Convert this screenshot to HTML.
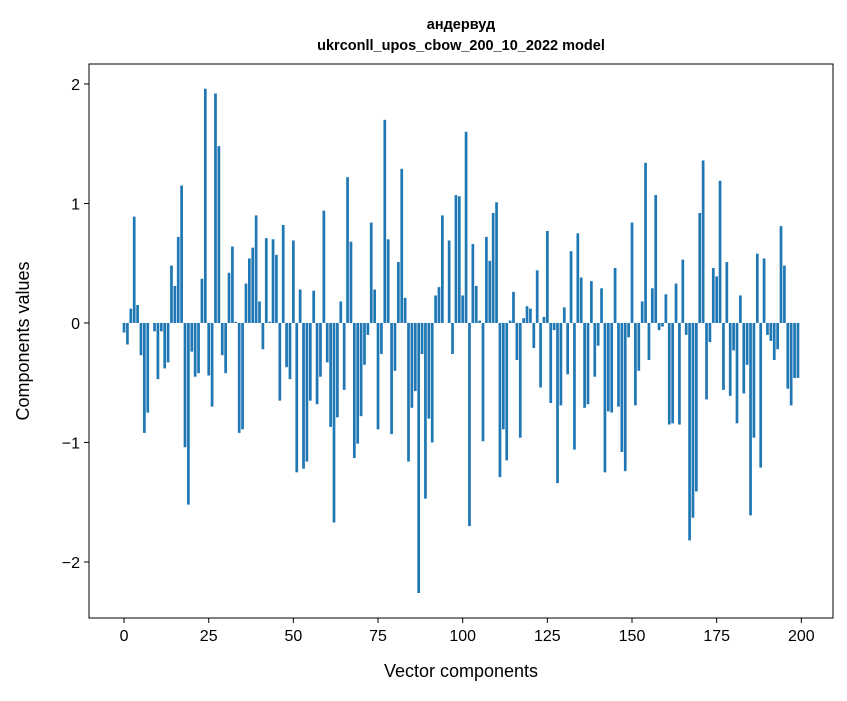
<!DOCTYPE html>
<html><head><meta charset="utf-8"><style>
body{margin:0;background:#fff;}
svg{font-family:"Liberation Sans","DejaVu Sans",sans-serif;}
</style></head><body>
<svg id="chart" width="847" height="696" xmlns="http://www.w3.org/2000/svg">
<rect width="847" height="696" fill="#fff"/>
<text x="461" y="29" text-anchor="middle" font-size="14.5" font-weight="bold">андервуд</text>
<text x="461" y="50" text-anchor="middle" font-size="14.5" font-weight="bold">ukrconll_upos_cbow_200_10_2022 model</text>
<g id="bars"></g>
<g id="axes"></g>
<rect x="89" y="64" width="744" height="554" fill="none" stroke="#000" stroke-width="1"/>
<text x="461" y="677" text-anchor="middle" font-size="18">Vector components</text>
<text transform="translate(29,341) rotate(-90)" text-anchor="middle" font-size="18">Components values</text>
</svg>
<script>
const values = [-0.08,-0.18,0.12,0.89,0.15,-0.27,-0.92,-0.75,0.0,-0.07,
-0.47,-0.07,-0.38,-0.33,0.48,0.31,0.72,1.15,-1.04,-1.52,
-0.24,-0.45,-0.42,0.37,1.96,-0.44,-0.70,1.92,1.48,-0.27,
-0.42,0.42,0.64,0.01,-0.92,-0.89,0.33,0.54,0.63,0.90,
0.18,-0.22,0.71,0.01,0.70,0.57,-0.65,0.82,-0.37,-0.47,
0.69,-1.25,0.28,-1.22,-1.16,-0.65,0.27,-0.68,-0.45,0.94,
-0.33,-0.87,-1.67,-0.79,0.18,-0.56,1.22,0.68,-1.13,-1.01,
-0.78,-0.35,-0.10,0.84,0.28,-0.89,-0.26,1.70,0.70,-0.93,
-0.40,0.51,1.29,0.21,-1.16,-0.71,-0.57,-2.26,-0.26,-1.47,
-0.80,-1.00,0.23,0.30,0.90,0.0,0.69,-0.26,1.07,1.06,
0.23,1.60,-1.70,0.66,0.31,0.02,-0.99,0.72,0.52,0.92,
1.01,-1.29,-0.89,-1.15,0.02,0.26,-0.31,-0.96,0.04,0.14,
0.12,-0.21,0.44,-0.54,0.05,0.77,-0.67,-0.06,-1.34,-0.69,
0.13,-0.43,0.60,-1.06,0.75,0.38,-0.71,-0.68,0.35,-0.45,
-0.19,0.29,-1.25,-0.74,-0.75,0.46,-0.70,-1.08,-1.24,-0.12,
0.84,-0.69,-0.40,0.18,1.34,-0.31,0.29,1.07,-0.06,-0.03,
0.24,-0.85,-0.84,0.33,-0.85,0.53,-0.10,-1.82,-1.63,-1.41,
0.92,1.36,-0.64,-0.16,0.46,0.39,1.19,-0.56,0.51,-0.61,
-0.23,-0.84,0.23,-0.59,-0.35,-1.61,-0.96,0.58,-1.21,0.54,
-0.10,-0.15,-0.31,-0.22,0.81,0.48,-0.55,-0.69,-0.46,-0.46];
const xTicks = [0,25,50,75,100,125,150,175,200];
const yTicks = [-2,-1,0,1,2];
const yTickLabels = ["\u22122","\u22121","0","1","2"];

const X0=89,X1=833,Y0=64,Y1=618;
const xMin=-10.35,xMax=209.35,yMin=-2.469,yMax=2.167;
function xs(v){return X0+(v-xMin)/(xMax-xMin)*(X1-X0);}
function ys(v){return Y1-(v-yMin)/(yMax-yMin)*(Y1-Y0);}
const NS="http://www.w3.org/2000/svg";
const bars=document.getElementById('bars');
values.forEach((v,i)=>{
  const r=document.createElementNS(NS,'rect');
  
  
  const x=xs(i-0.4),w=xs(i+0.4)-x;
  const y=Math.min(ys(v),ys(0)),h=Math.abs(ys(v)-ys(0));
  r.setAttribute('x',x);r.setAttribute('y',y);
  r.setAttribute('width',w);r.setAttribute('height',h);
  r.setAttribute('fill','#1f77b4');
  bars.appendChild(r);
});
const axes=document.getElementById('axes');
xTicks.forEach(t=>{
  const l=document.createElementNS(NS,'line');
  
  
  l.setAttribute('x1',xs(t));l.setAttribute('x2',xs(t));
  l.setAttribute('y1',Y1);l.setAttribute('y2',Y1+5);
  l.setAttribute('stroke','#000');
  axes.appendChild(l);
  const tx=document.createElementNS(NS,'text');
  
  
  tx.setAttribute('x',xs(t));tx.setAttribute('y',Y1+23);
  tx.setAttribute('text-anchor','middle');tx.setAttribute('font-size','16');
  tx.textContent=t;
  axes.appendChild(tx);
});
yTicks.forEach((t,i)=>{
  const l=document.createElementNS(NS,'line');
  
  
  l.setAttribute('x1',X0-5);l.setAttribute('x2',X0);
  l.setAttribute('y1',ys(t));l.setAttribute('y2',ys(t));
  l.setAttribute('stroke','#000');
  axes.appendChild(l);
  const tx=document.createElementNS(NS,'text');
  
  
  tx.setAttribute('x',X0-9);tx.setAttribute('y',ys(t)+6);
  tx.setAttribute('text-anchor','end');tx.setAttribute('font-size','16');
  tx.textContent=yTickLabels[i];
  axes.appendChild(tx);
});
</script>
</body></html>
